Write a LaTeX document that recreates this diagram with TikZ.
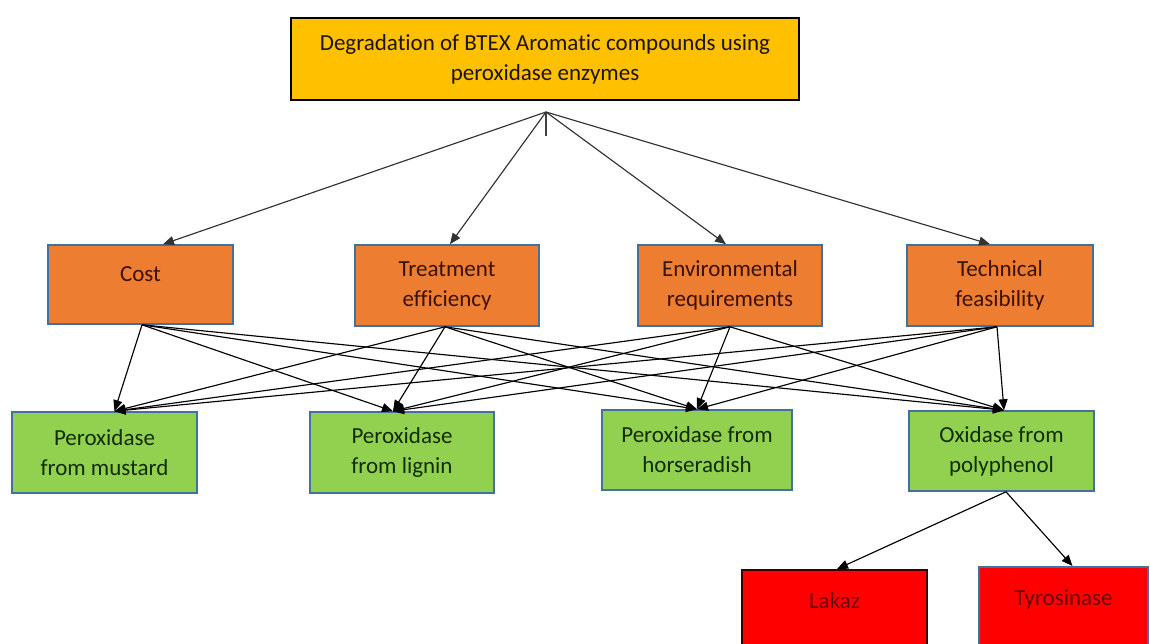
\documentclass[tikz,border=0pt]{standalone}
\usepackage{fontspec}
\setmainfont{Carlito}[Ligatures=NoCommon]
\usetikzlibrary{arrows.meta}
\definecolor{topfill}{HTML}{FFC000}
\definecolor{orgfill}{HTML}{ED7D31}
\definecolor{grnfill}{HTML}{92D050}
\definecolor{redfill}{HTML}{FF0000}
\definecolor{bordblue}{HTML}{41719C}
\definecolor{toptext}{HTML}{1E1400}
\definecolor{orgtext}{HTML}{3B1100}
\definecolor{grntext}{HTML}{122D05}
\definecolor{redtext}{HTML}{6E0000}
\definecolor{lakbord}{HTML}{3A0000}
\tikzset{
  box/.style={draw, line width=1.6pt, align=center, inner sep=0pt,
    font=\fontsize{23}{30}\selectfont},
  topbox/.style={box, fill=topfill, draw=black, line width=2pt, text=toptext,
    minimum width=508pt, minimum height=82pt},
  obox/.style={box, fill=orgfill, draw=bordblue, text=orgtext,
    minimum width=184pt, minimum height=81pt},
  gbox/.style={box, fill=grnfill, draw=bordblue, text=grntext,
    minimum width=185pt, minimum height=81pt},
  rbox/.style={box, fill=redfill, text=redtext, anchor=north,
    minimum height=92pt, text height=16pt, text depth=30pt},
  arr/.style={line width=1.15pt, -{Triangle[length=11pt,width=9pt]}},
  link/.style={line width=1.15pt}
}
\begin{document}
\begin{tikzpicture}[x=1pt,y=-1pt]
\useasboundingbox (0,0) rectangle (1150,643);
\clip (0,0) rectangle (1150,643);
\fill[white] (0,0) rectangle (1150,643);

% top
\node[topbox] (top) at (545,59) {Degradation of BTEX Aromatic compounds using\\peroxidase enzymes};
\coordinate (J) at (546,112);
\coordinate (Jt) at (546,136);
\draw[link, black!75] (J) -- (Jt);

% criteria
\node[obox, minimum width=185pt, minimum height=79pt, text height=16pt, text depth=22pt] (cost) at (140.5,284.5) {Cost};
\node[obox] (treat) at (447,285.5) {Treatment\\efficiency};
\node[obox] (env) at (730,285.5) {Environmental\\requirements};
\node[obox, minimum width=186pt] (tech) at (1000,285.5) {Technical\\feasibility};

% alternatives
\node[gbox] (must) at (104.5,452.5) {Peroxidase\\from mustard};
\node[gbox, minimum width=184pt] (lign) at (402,452.5) {Peroxidase\\from lignin};
\node[gbox, minimum width=190pt, minimum height=80pt] (horse) at (697,450) {Peroxidase from\\horseradish};
\node[gbox, minimum height=80pt] (poly) at (1001.5,451) {Oxidase from\\polyphenol};

% sub
\node[rbox, draw=lakbord, minimum width=185pt] (lak) at (834.5,569) {Lakaz};
\node[rbox, draw=bordblue, minimum width=169pt] (tyr) at (1063.5,566) {Tyrosinase};

% top arrows
\draw[arr, black!80] (J) -- ([xshift=22.5pt]cost.north);
\draw[arr, black!80] (J) -- ([xshift=3pt]treat.north);
\draw[arr, black!80] (J) -- ([xshift=-4pt]env.north);
\draw[arr, black!80] (J) -- ([xshift=-10pt]tech.north);

% middle arrows
\coordinate (cO) at ([xshift=1.5pt]cost.south);
\coordinate (tO) at ([xshift=-2pt]treat.south);
\coordinate (eO) at (env.south);
\coordinate (fO) at ([xshift=-3pt]tech.south);
\coordinate (mT) at ([xshift=10pt]must.north);
\coordinate (lT) at ([xshift=-9pt]lign.north);
\coordinate (hT) at (horse.north);
\coordinate (pT) at ([xshift=2.5pt]poly.north);
\foreach \o in {cO,tO,eO,fO}{
  \foreach \t in {mT,lT,hT,pT}{
    \draw[arr] (\o) -- (\t);
  }
}

% bottom arrows
\coordinate (pO) at ([xshift=4.5pt]poly.south);
\draw[arr] (pO) -- ([xshift=2.5pt]lak.north);
\draw[arr] (pO) -- ([xshift=9pt]tyr.north);
\end{tikzpicture}
\end{document}
